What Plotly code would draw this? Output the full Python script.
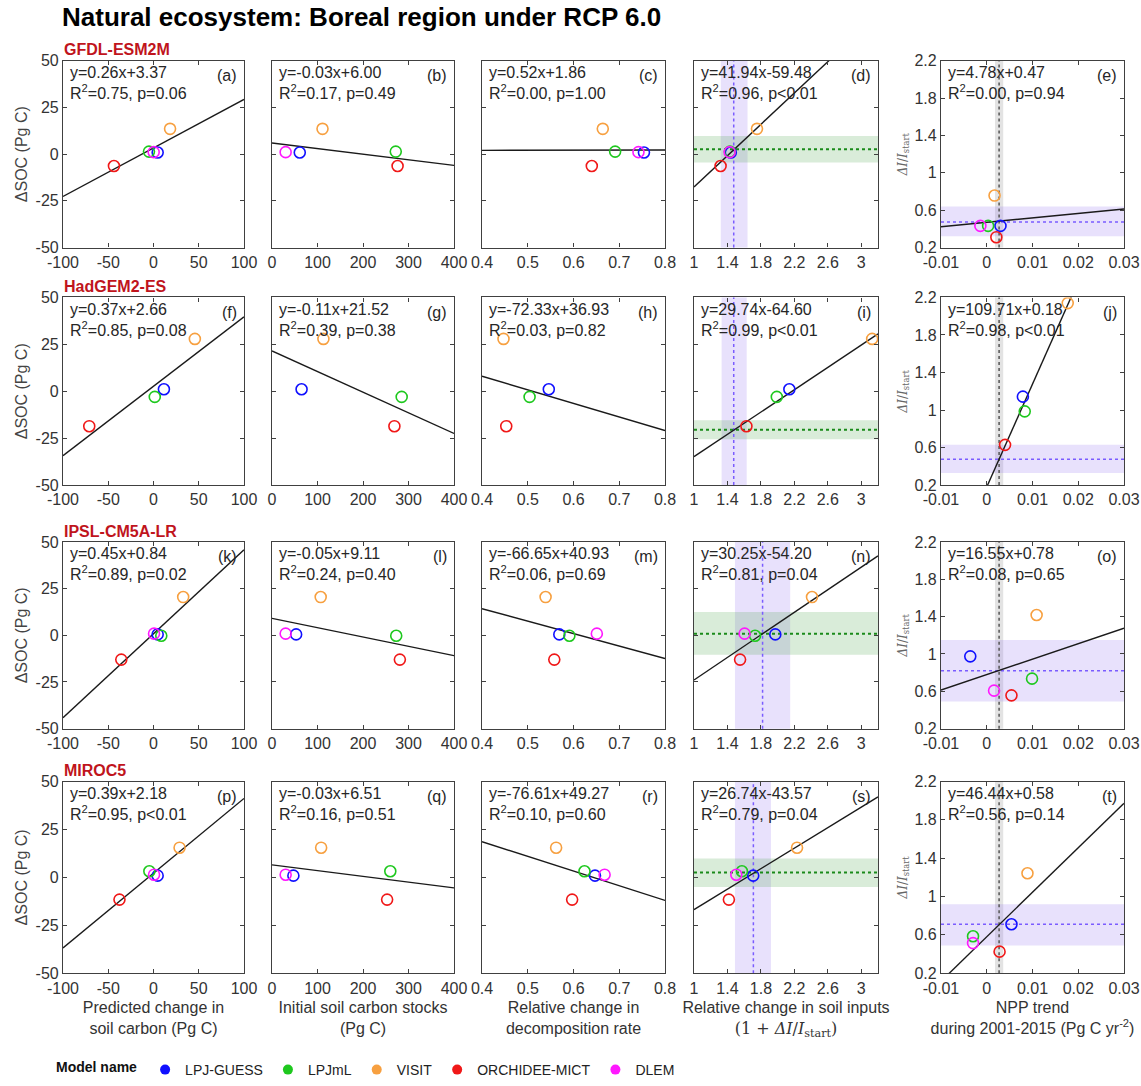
import plotly.graph_objects as go

W, H = 1141, 1086
FONT = "Liberation Sans, Arial, Helvetica, sans-serif"

# ---------------- data ----------------
models = ["LPJ-GUESS", "LPJmL", "VISIT", "ORCHIDEE-MICT", "DLEM"]
model_colors = ["#1010ff", "#1ec81e", "#f7a040", "#f01818", "#ff18ff"]
esm_names = ["GFDL-ESM2M", "HadGEM2-ES", "IPSL-CM5A-LR", "MIROC5"]
panel_letters = list("abcdefghijklmnopqrst")

# values per row (ESM), model order as in `models`
dsoc = [
    [0.9, 1.4, 13.6, -6.3, 1.1],
    [1.1, -3.0, 27.9, -18.6, None],
    [0.5, -0.2, 20.5, -13.0, 0.9],
    [0.9, 3.2, 15.5, -11.6, 1.4],
]
pred_change = [
    [4.6, -5.0, 18.3, -43.7, 0.2],
    [11.5, 1.4, 45.7, -71.0, None],
    [4.6, 8.6, 32.8, -35.6, 0.6],
    [4.6, -4.6, 28.8, -37.6, 0.6],
]
init_stock = [
    [61, 272, 111, 276, 30],
    [65, 285, 113, 269, None],
    [53, 273, 107, 281, 30],
    [47, 260, 108, 253, 30],
]
decomp_change = [
    [0.754, 0.691, 0.664, 0.640, 0.742],
    [0.546, 0.504, 0.447, 0.453, None],
    [0.569, 0.591, 0.539, 0.558, 0.651],
    [0.647, 0.624, 0.562, 0.597, 0.668],
]
input_change = [
    [1.44, 1.43, 1.753, 1.318, 1.426],
    [2.14, 1.99, 3.13, 1.627, None],
    [1.972, 1.73, 2.411, 1.551, 1.605],
    [1.708, 1.573, 2.232, 1.417, 1.506],
]
npp_trend = [
    [0.0030, 0.0003, 0.0017, 0.0021, -0.0014],
    [0.0079, 0.0083, 0.0177, 0.0040, None],
    [-0.0036, 0.0099, 0.0109, 0.0054, 0.0016],
    [0.0054, -0.0030, 0.0089, 0.0028, -0.0030],
]
rel_input = [
    [0.432, 0.432, 0.757, 0.311, 0.432],
    [1.143, 0.986, 2.14, 0.629, None],
    [0.975, 0.736, 1.418, 0.557, 0.607],
    [0.711, 0.586, 1.243, 0.425, 0.514],
]

# regression results (row x column)
slopes = [
    [0.26, -0.03, 0.52, 41.94, 4.78],
    [0.37, -0.11, -72.33, 29.74, 109.71],
    [0.45, -0.05, -66.65, 30.25, 16.55],
    [0.39, -0.03, -76.61, 26.74, 46.44],
]
intercepts = [
    [3.37, 6.00, 1.86, -59.48, 0.47],
    [2.66, 21.52, 36.93, -64.60, 0.18],
    [0.84, 9.11, 40.93, -54.20, 0.78],
    [2.18, 6.51, 49.27, -43.57, 0.58],
]
r_squared = [
    [0.75, 0.17, 0.00, 0.96, 0.00],
    [0.85, 0.39, 0.03, 0.99, 0.98],
    [0.89, 0.24, 0.06, 0.81, 0.08],
    [0.95, 0.16, 0.10, 0.79, 0.56],
]
p_text = [
    ["p=0.06", "p=0.49", "p=1.00", "p<0.01", "p=0.94"],
    ["p=0.08", "p=0.38", "p=0.82", "p<0.01", "p<0.01"],
    ["p=0.02", "p=0.40", "p=0.69", "p=0.04", "p=0.65"],
    ["p<0.01", "p=0.51", "p=0.60", "p=0.04", "p=0.14"],
]

# ensemble mean / range of soil inputs change (rows)
input_mean = [0.475, 0.475, 0.82, 0.71]
input_lo = [0.32, 0.33, 0.49, 0.49]
input_hi = [0.64, 0.63, 1.15, 0.92]
dsoc_mean = [2.7, -20.5, 0.9, 2.5]
dsoc_lo = [-4.5, -25.5, -10.4, -5.0]
dsoc_hi = [9.8, -15.5, 12.5, 9.8]
npp_mean = 0.0027
npp_lo = 0.0018
npp_hi = 0.0036

# axes
x_ranges = [[-100, 100], [0, 400], [0.4, 0.8], [1, 3.2], [-0.01, 0.03]]
x_tickvals = [[-100, -50, 0, 50, 100], [0, 100, 200, 300, 400],
              [0.4, 0.5, 0.6, 0.7, 0.8], [1, 1.4, 1.8, 2.2, 2.6, 3],
              [-0.01, 0, 0.01, 0.02, 0.03]]
x_ticktext = [["-100", "-50", "0", "50", "100"], ["0", "100", "200", "300", "400"],
              ["0.4", "0.5", "0.6", "0.7", "0.8"], ["1", "1.4", "1.8", "2.2", "2.6", "3"],
              ["-0.01", "0", "0.01", "0.02", "0.03"]]
soc_range = [-50, 50]
soc_ticks = [-50, -25, 0, 25, 50]
rel_range = [0.2, 2.2]
rel_ticks = [0.2, 0.6, 1, 1.4, 1.8, 2.2]
rel_ticktext = ["0.2", "0.6", "1", "1.4", "1.8", "2.2"]

x_titles = [
    "Predicted change in<br>soil carbon (Pg C)",
    "Initial soil carbon stocks<br>(Pg C)",
    "Relative change in<br>decomposition rate",
    "Relative change in soil inputs<br><span style=\"font-family:'DejaVu Serif',serif\">(1 + <i>ΔI</i>/<i>I</i><sub>start</sub>)</span>",
    "NPP trend<br>during 2001-2015 (Pg C yr<sup>-2</sup>)",
]

# ---------------- layout geometry (pixels) ----------------
col_px = [(63, 244), (272, 454), (482, 665), (694, 878), (941, 1124)]
row_px = [(61, 248), (298, 486), (543, 730), (783, 975)]

fig = go.Figure()
layout = dict(
    width=W, height=H, autosize=False,
    margin=dict(l=0, r=0, t=0, b=0),
    paper_bgcolor="white", plot_bgcolor="white",
    font=dict(family=FONT, size=16, color="#262626"),
    showlegend=True,
)
shapes = []
annotations = []

col_x = [pred_change, init_stock, decomp_change, input_change, npp_trend]

AX_COLOR = "#404040"
for r in range(4):
    for c in range(5):
        k = r * 5 + c + 1
        xa = f"x{k}" if k > 1 else "x"
        ya = f"y{k}" if k > 1 else "y"
        xkey = f"xaxis{k}" if k > 1 else "xaxis"
        ykey = f"yaxis{k}" if k > 1 else "yaxis"
        l, rr = col_px[c]
        t, b = row_px[r]
        xdom = [l / W, rr / W]
        ydom = [1 - b / H, 1 - t / H]

        xax = dict(domain=xdom, anchor=ya, range=x_ranges[c], tickmode="array",
                   tickvals=x_tickvals[c], ticktext=x_ticktext[c],
                   showline=True, linecolor=AX_COLOR, linewidth=1.2, mirror="ticks",
                   ticks="inside", ticklen=4, tickcolor=AX_COLOR, showgrid=False,
                   zeroline=False, tickfont=dict(size=16, color="#333333"),
                   automargin=False)
        if r == 3:
            xax["title"] = dict(text=x_titles[c], font=dict(size=16, color="#333333"), standoff=6)
        yrng = rel_range if c == 4 else soc_range
        yax = dict(domain=ydom, anchor=xa, range=yrng, tickmode="array",
                   tickvals=rel_ticks if c == 4 else soc_ticks,
                   showline=True, linecolor=AX_COLOR, linewidth=1.2, mirror="ticks",
                   ticks="inside", ticklen=4, tickcolor=AX_COLOR, showgrid=False,
                   zeroline=False, tickfont=dict(size=16, color="#333333"),
                   automargin=False)
        if c == 4:
            yax["ticktext"] = rel_ticktext
            yax["title"] = dict(text="<i>ΔI</i>/<i>I</i><sub>start</sub>",
                                font=dict(size=12, color="#666666", family="DejaVu Serif, serif"),
                                standoff=4)
        elif c == 0:
            yax["ticktext"] = [str(v) for v in soc_ticks]
            yax["title"] = dict(text="ΔSOC (Pg C)", font=dict(size=16, color="#444444"), standoff=3)
        else:
            yax["showticklabels"] = False
        layout[xkey] = xax
        layout[ykey] = yax

        # reference bands
        if c == 3:
            shapes.append(dict(type="rect", xref=xa, yref=f"{ya} domain", x0=1 + input_lo[r], x1=1 + input_hi[r],
                               y0=0, y1=1, fillcolor="rgba(150,120,240,0.22)", line=dict(width=0), layer="below"))
            shapes.append(dict(type="rect", xref=f"{xa} domain", yref=ya, x0=0, x1=1, y0=dsoc_lo[r], y1=dsoc_hi[r],
                               fillcolor="rgba(80,170,80,0.22)", line=dict(width=0), layer="below"))
            shapes.append(dict(type="line", xref=xa, yref=f"{ya} domain", x0=1 + input_mean[r], x1=1 + input_mean[r],
                               y0=0, y1=1, line=dict(color="#7a5cff", width=1.5, dash="dot"), layer="below"))
            shapes.append(dict(type="line", xref=f"{xa} domain", yref=ya, x0=0, x1=1, y0=dsoc_mean[r], y1=dsoc_mean[r],
                               line=dict(color="#1a8a1a", width=2, dash="dot"), layer="below"))
        if c == 4:
            shapes.append(dict(type="rect", xref=xa, yref=f"{ya} domain", x0=npp_lo, x1=npp_hi,
                               y0=0, y1=1, fillcolor="rgba(128,128,128,0.22)", line=dict(width=0), layer="below"))
            shapes.append(dict(type="rect", xref=f"{xa} domain", yref=ya, x0=0, x1=1, y0=input_lo[r], y1=input_hi[r],
                               fillcolor="rgba(150,120,240,0.22)", line=dict(width=0), layer="below"))
            shapes.append(dict(type="line", xref=xa, yref=f"{ya} domain", x0=npp_mean, x1=npp_mean,
                               y0=0, y1=1, line=dict(color="#555555", width=1.5, dash="dot"), layer="below"))
            shapes.append(dict(type="line", xref=f"{xa} domain", yref=ya, x0=0, x1=1, y0=input_mean[r], y1=input_mean[r],
                               line=dict(color="#7a5cff", width=1.5, dash="dot"), layer="below"))

        # regression line
        a, b0 = slopes[r][c], intercepts[r][c]
        xs = list(x_ranges[c])
        fig.add_trace(go.Scatter(x=xs, y=[a * v + b0 for v in xs], mode="lines",
                                 line=dict(color="#1a1a1a", width=1.4),
                                 xaxis=xa, yaxis=ya, showlegend=False, hoverinfo="skip"))
        # points
        yvals = rel_input[r] if c == 4 else dsoc[r]
        xvals = col_x[c][r]
        for i, m in enumerate(models):
            if xvals[i] is None or yvals[i] is None:
                continue
            fig.add_trace(go.Scatter(x=[xvals[i]], y=[yvals[i]], mode="markers", name=m,
                                     marker=dict(symbol="circle-open", size=11, color=model_colors[i],
                                                 line=dict(width=1.6, color=model_colors[i])),
                                     xaxis=xa, yaxis=ya, showlegend=False))

        # text annotations
        sign = "+" if b0 >= 0 else "-"
        eq = f"y={a:.2f}x{sign}{abs(b0):.2f}"
        annotations.append(dict(text=eq, xref=f"{xa} domain", yref=f"{ya} domain", x=0.025, y=1 - 12 / 187,
                                xanchor="left", yanchor="middle", showarrow=False,
                                font=dict(size=16, color="#262626")))
        annotations.append(dict(text=f"R<sup>2</sup>={r_squared[r][c]:.2f}, {p_text[r][c]}",
                                xref=f"{xa} domain", yref=f"{ya} domain", x=0.025, y=1 - 31 / 187,
                                xanchor="left", yanchor="middle", showarrow=False,
                                font=dict(size=16, color="#262626")))
        annotations.append(dict(text=f"({panel_letters[k - 1]})", xref=f"{xa} domain", yref=f"{ya} domain",
                                x=0.975, y=1 - 15 / 187, xanchor="right", yanchor="middle", showarrow=False,
                                font=dict(size=16, color="#262626")))

    # ESM name
    annotations.append(dict(text=f"<b>{esm_names[r]}</b>", xref="paper", yref="paper",
                            x=62 / W, y=1 - (row_px[r][0] - 11) / H, xanchor="left", yanchor="middle",
                            showarrow=False, font=dict(size=16, color="#c0141c")))

# legend entries (filled dots)
for i, m in enumerate(models):
    fig.add_trace(go.Scatter(x=[None], y=[None], mode="markers", name=m,
                             marker=dict(symbol="circle", size=10, color=model_colors[i]),
                             xaxis="x", yaxis="y", showlegend=True))

layout["title"] = dict(text="<b>Natural ecosystem: Boreal region under RCP 6.0</b>",
                       x=62 / W, xanchor="left", xref="paper", y=1 - 17 / H, yanchor="middle",
                       font=dict(size=26, color="black", family=FONT))
layout["legend"] = dict(orientation="h", x=54 / W, xanchor="left", y=1 - 1072 / H, yanchor="middle",
                        title=dict(text="<b>Model name</b>", font=dict(size=14, color="#111111"), side="left"),
                        font=dict(size=14, color="#222222", family=FONT),
                        bgcolor="rgba(0,0,0,0)", itemclick=False)
layout["shapes"] = shapes
layout["annotations"] = annotations
fig.update_layout(**layout)

fig.write_html("out.html")
